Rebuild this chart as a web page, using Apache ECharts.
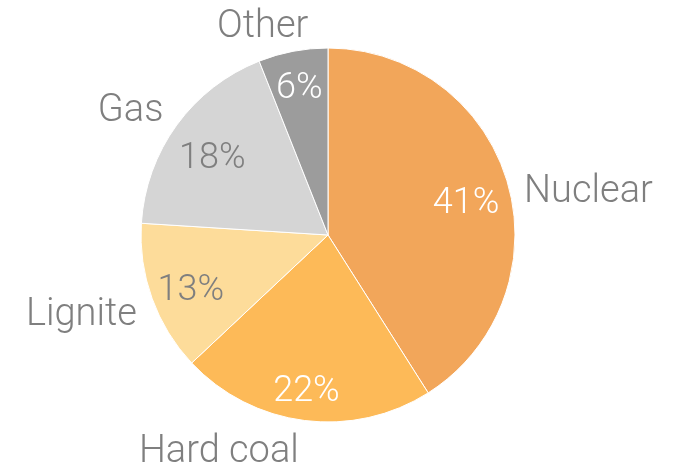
<!DOCTYPE html>
<html>
<head>
<meta charset="utf-8">
<script src="https://cdn.jsdelivr.net/npm/echarts@6/dist/echarts.min.js"></script>
<style>
  html, body { margin: 0; padding: 0; background: #fff; }
  #chart { width: 674px; height: 468px; }
</style>
</head>
<body>
<div id="chart"></div>
<script>
const categories = ['Nuclear', 'Hard coal', 'Lignite', 'Gas', 'Other']
const shares = [41, 22, 13, 18, 6]
const sliceColors = ['#F2A65A', '#FDBA58', '#FDDC9A', '#D5D5D5', '#9C9C9C']
const pctColors = ['#fff', '#fff', '#7f7f7f', '#7f7f7f', '#fff']

// small nudges so the labels sit where the original put them
const nameOffsets = [[-2, 14], [1, 18], [3, 12], [3, -5], [23, -10]]
const pctOffsets = [[-4, 10], [-3, 10], [2, 6], [4, 11], [-1, -1]]

const font = 'Roboto'
const grey = '#7f7f7f'

const chart = echarts.init(document.getElementById('chart'), null, { renderer: 'canvas' })

chart.setOption({
  animation: false,
  series: [
    {
      // slices + outside category names
      type: 'pie',
      center: [328, 235],
      radius: [0, 187],
      startAngle: 90,
      clockwise: true,
      silent: true,
      avoidLabelOverlap: false,
      itemStyle: { borderColor: '#fff', borderWidth: 1 },
      label: {
        show: true,
        position: 'outside',
        formatter: '{b}',
        color: grey,
        fontFamily: font,
        fontWeight: 300,
        fontSize: 38,
      },
      labelLine: { show: false, length: 14, length2: 0 },
      data: categories.map((name, i) => ({
        name,
        value: shares[i],
        itemStyle: { color: sliceColors[i] },
        label: { offset: nameOffsets[i] },
      })),
    },
    {
      // transparent ring used only to place the percentage labels
      type: 'pie',
      center: [328, 235],
      radius: [100, 190],
      startAngle: 90,
      clockwise: true,
      silent: true,
      itemStyle: { color: 'rgba(0,0,0,0)' },
      label: {
        show: true,
        position: 'inside',
        formatter: (p) => p.value + '%',
        fontFamily: font,
        fontWeight: 300,
        fontSize: 36,
      },
      labelLine: { show: false },
      data: categories.map((name, i) => ({
        name,
        value: shares[i],
        label: { color: pctColors[i], offset: pctOffsets[i] },
      })),
    },
  ],
})
</script>
</body>
</html>
